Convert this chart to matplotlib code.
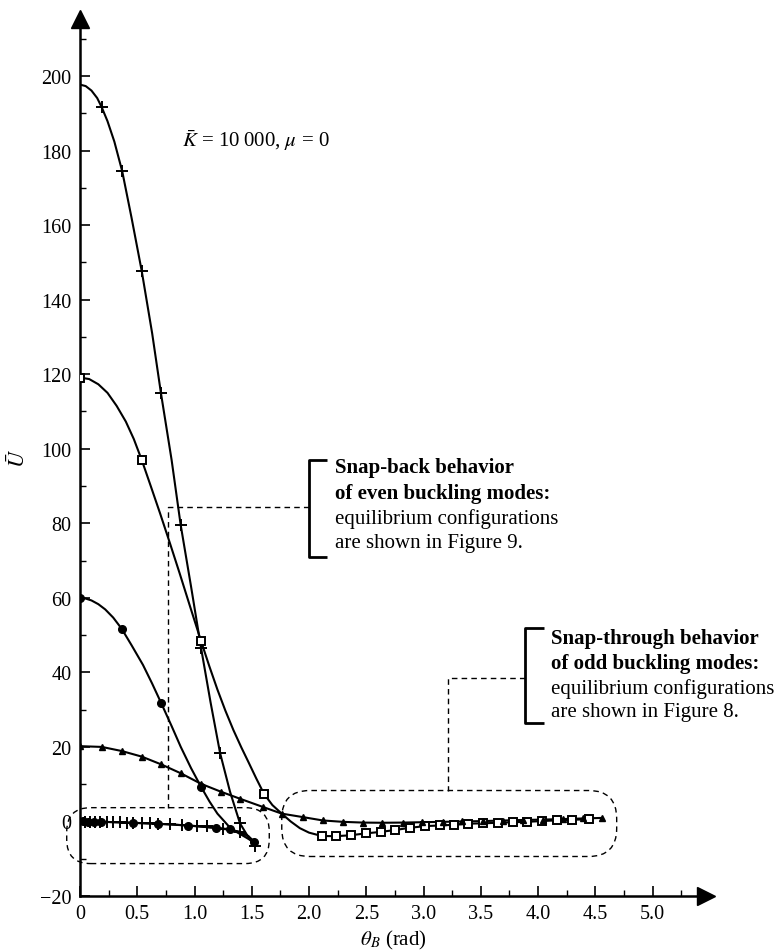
#!/usr/bin/env python3
"""
Potential energy U vs end rotation theta_B (K = 10000, mu = 0).
Snap-back / snap-through branches of the buckling modes.
"""

import matplotlib
matplotlib.use('Agg')
import matplotlib.pyplot as plt
from matplotlib.patches import FancyBboxPatch
from matplotlib.ticker import MultipleLocator

# --- curve: "+" markers (snap-back, goes down then returns near 0)
plus_line_x = [0.0, 0.05, 0.10, 0.15, 0.19, 0.24, 0.30, 0.369, 0.45, 0.539, 0.63, 0.707,
               0.80, 0.879, 0.97, 1.057, 1.14, 1.223, 1.31, 1.397, 1.47, 1.528,
               1.50, 1.45, 1.397, 1.30, 1.20, 1.00, 0.80, 0.60, 0.40, 0.20, 0.0]
plus_line_y = [197.7, 197.3, 196.1, 194.1, 191.6, 187.9, 182.4, 174.4, 162.0, 147.7, 131.0,
               114.9, 97.0, 79.6, 63.0, 46.6, 32.0, 18.4, 8.0, -0.5, -4.2, -6.6,
               -4.8, -3.5, -2.8, -2.2, -1.8, -1.2, -0.8, -0.55, -0.3, -0.1, 0.0]
plus_mark_x = [0.19, 0.369, 0.539, 0.707, 0.879, 1.057, 1.223, 1.397, 1.528,
               0.0, 0.044, 0.087, 0.131, 0.175, 0.233, 0.288, 0.349, 0.408, 0.463, 0.539,
               0.611, 0.681, 0.786, 0.888, 1.019, 1.107, 1.249, 1.397]
plus_mark_y = [191.6, 174.4, 147.7, 114.9, 79.6, 46.6, 18.4, -0.5, -6.6,
               0.0, -0.02, -0.05, -0.08, -0.1, -0.15, -0.2, -0.25, -0.3, -0.35, -0.42,
               -0.5, -0.6, -0.8, -0.95, -1.15, -1.35, -1.9, -2.8]

# --- "o" markers (snap-back)
dot_line_x = [0.0, 0.05, 0.10, 0.16, 0.22, 0.29, 0.364, 0.45, 0.55, 0.63, 0.71, 0.80,
              0.88, 0.97, 1.057, 1.13, 1.20, 1.32, 1.45, 1.52,
              1.47, 1.40, 1.31, 1.185, 0.94, 0.68, 0.46, 0.20, 0.0]
dot_line_y = [60.0, 59.8, 59.3, 58.3, 56.9, 54.7, 51.7, 47.3, 42.0, 37.0, 31.7, 25.6,
              20.0, 14.3, 9.3, 5.4, 2.1, -2.0, -4.3, -5.6,
              -3.9, -2.9, -2.1, -1.7, -1.1, -0.6, -0.35, -0.1, 0.0]
dot_mark_x = [0.0, 0.364, 0.71, 1.057, 1.52,
              0.03, 0.07, 0.12, 0.18, 0.46, 0.68, 0.94, 1.185, 1.31]
dot_mark_y = [60.0, 51.7, 31.7, 9.3, -5.6,
              0.0, -0.02, -0.05, -0.08, -0.35, -0.6, -1.1, -1.7, -2.1]

# --- open squares (snap-through)
sq_line_x = [0.0, 0.08, 0.16, 0.24, 0.32, 0.40, 0.47, 0.539, 0.62, 0.70, 0.786, 0.87,
             0.96, 1.057, 1.13, 1.20, 1.27, 1.34, 1.41, 1.47, 1.54, 1.607, 1.68, 1.762,
             1.84, 1.92, 2.0, 2.111, 2.236, 2.364, 2.495, 2.626, 2.751, 2.882, 3.013,
             3.144, 3.266, 3.389, 3.52, 3.651, 3.779, 3.901, 4.032, 4.163, 4.294, 4.448]
sq_line_y = [119.1, 118.7, 117.3, 115.0, 111.5, 107.3, 102.6, 97.0, 89.8, 82.6, 74.6, 66.6,
             57.8, 48.4, 41.6, 35.4, 29.7, 24.5, 19.8, 16.0, 11.5, 7.4, 4.4, 2.1,
             0.0, -1.8, -3.0, -3.9, -3.95, -3.7, -3.2, -2.8, -2.3, -1.7, -1.25,
             -1.07, -0.9, -0.6, -0.5, -0.35, -0.2, -0.1, 0.1, 0.3, 0.45, 0.6]
sq_mark_x = [0.0, 0.539, 1.057, 1.607, 2.111, 2.236, 2.364, 2.495, 2.626, 2.751, 2.882,
             3.013, 3.144, 3.266, 3.389, 3.52, 3.651, 3.779, 3.901, 4.032, 4.163, 4.294, 4.448]
sq_mark_y = [119.1, 97.0, 48.4, 7.4, -3.9, -3.95, -3.7, -3.2, -2.8, -2.3, -1.7,
             -1.25, -1.07, -0.9, -0.6, -0.5, -0.35, -0.2, -0.1, 0.1, 0.3, 0.45, 0.6]

# --- small filled triangles (snap-through)
tri_x = [0.0, 0.19, 0.364, 0.539, 0.71, 0.882, 1.057, 1.229, 1.397, 1.601, 1.762, 1.95,
         2.12, 2.294, 2.47, 2.64, 2.82, 2.99, 3.17, 3.34, 3.52, 3.69, 3.87, 4.04,
         4.22, 4.39, 4.56]
tri_y = [20.2, 20.0, 18.9, 17.4, 15.3, 12.9, 10.1, 8.0, 6.1, 3.85, 2.1, 1.15,
         0.27, -0.1, -0.3, -0.35, -0.3, -0.2, -0.1, 0.0, 0.1, 0.25, 0.4, 0.5,
         0.65, 0.8, 0.95]

x_ticks = [0, 0.5, 1.0, 1.5, 2.0, 2.5, 3.0, 3.5, 4.0, 4.5, 5.0]
x_tick_labels = ['0', '0.5', '1.0', '1.5', '2.0', '2.5', '3.0', '3.5', '4.0', '4.5', '5.0']
y_ticks = [-20, 0, 20, 40, 60, 80, 100, 120, 140, 160, 180, 200]

snap_back_text = ['Snap-back behavior', 'of even buckling modes:',
                  'equilibrium configurations', 'are shown in Figure 9.']
snap_through_text = ['Snap-through behavior', 'of odd buckling modes:',
                     'equilibrium configurations', 'are shown in Figure 8.']

plt.rcParams['font.family'] = ['Liberation Serif', 'DejaVu Serif']
plt.rcParams['mathtext.fontset'] = 'stix'

PX_X = 114.5   # pixels per x unit
PX_Y = 3.727   # pixels per y unit


def stadium(ax, x0, x1, y0, y1, r_px):
    box = FancyBboxPatch((x0, y0), x1 - x0, y1 - y0,
                         boxstyle=f'round,pad=0,rounding_size={r_px / PX_X}',
                         mutation_aspect=PX_X / PX_Y,
                         fill=False, ec='black', lw=1.0, ls=(0, (4, 3)),
                         clip_on=False, zorder=1)
    ax.add_patch(box)


def bracket(ax, x, x_arm, y_top, y_bot):
    ax.plot([x_arm, x, x, x_arm], [y_top, y_top, y_bot, y_bot],
            color='black', lw=2.0, clip_on=False, solid_capstyle='butt')


def main():
    fig = plt.figure(figsize=(7.83, 9.53), dpi=100)
    ax = fig.add_axes([80 / 783, 56 / 953, 626 / 783, 877 / 953])
    ax.set_xlim(0, 5.467)
    ax.set_ylim(-20, 215.3)

    lw = 1.5
    ax.plot(plus_line_x, plus_line_y, color='black', lw=lw, zorder=3)
    ax.plot(dot_line_x, dot_line_y, color='black', lw=lw, zorder=3)
    ax.plot(sq_line_x, sq_line_y, color='black', lw=lw, zorder=3)
    ax.plot(tri_x, tri_y, color='black', lw=lw, zorder=3)

    ax.plot(plus_mark_x, plus_mark_y, ls='none', marker='+', ms=8, mew=1.4,
            color='black', zorder=4)
    ax.plot(dot_mark_x, dot_mark_y, ls='none', marker='o', ms=5.5,
            color='black', zorder=4)
    ax.plot(sq_mark_x, sq_mark_y, ls='none', marker='s', ms=6, mew=1.4,
            mfc='white', mec='black', zorder=4)
    ax.plot(tri_x, tri_y, ls='none', marker='^', ms=4.5, color='black', zorder=4)

    # axes styling: only left/bottom spines, with arrow heads
    for side in ['top', 'right']:
        ax.spines[side].set_visible(False)
    for side in ['left', 'bottom']:
        ax.spines[side].set_linewidth(1.8)
    ax.plot(1, 0, marker='>', ms=13, color='black', transform=ax.transAxes,
            clip_on=False, zorder=5)
    ax.plot(0, 1, marker='^', ms=13, color='black', transform=ax.transAxes,
            clip_on=False, zorder=5)

    ax.set_xticks(x_ticks)
    ax.set_xticklabels(x_tick_labels)
    ax.set_yticks(y_ticks)
    ax.xaxis.set_minor_locator(MultipleLocator(0.25))
    ax.yaxis.set_minor_locator(MultipleLocator(10))
    ax.tick_params(which='major', direction='in', length=7, width=1.2,
                   labelsize=14.5, pad=6)
    ax.tick_params(which='minor', direction='in', length=4, width=1.0)
    ax.tick_params(axis='y', pad=6)

    fig.text(19 / 783, 1 - 458 / 953, r'$\bar{U}$', fontsize=16, rotation=90,
             ha='center', va='center')
    fig.text(393 / 783, 1 - 940 / 953, r'$\theta_B$ (rad)', fontsize=15,
             ha='center', va='center')

    ax.text(0.89, 183, '$\\bar{K}$ = 10\u2009000, $\\mu$ = 0', fontsize=15,
            ha='left', va='center')

    # snap-back annotation
    dash = (0, (4, 3))
    stadium(ax, -0.116, 1.653, -11.3, 3.7, 24)
    ax.plot([2.0, 0.766, 0.766], [84.5, 84.5, 3.7], color='black', lw=1.0,
            ls=dash, clip_on=False, zorder=1)
    bracket(ax, 2.0, 2.157, 96.9, 71.0)
    for i, (line, yv) in enumerate(zip(snap_back_text, [95.0, 88.0, 81.3, 74.9])):
        ax.text(2.227, yv, line, fontsize=15, va='center', ha='left',
                fontweight='bold' if i < 2 else 'normal')

    # snap-through annotation
    stadium(ax, 1.762, 4.687, -9.4, 8.3, 28)
    ax.plot([3.886, 3.217, 3.217], [38.6, 38.6, 8.3], color='black', lw=1.0,
            ls=dash, clip_on=False, zorder=1)
    bracket(ax, 3.886, 4.055, 51.8, 26.5)
    for i, (line, yv) in enumerate(zip(snap_through_text, [49.3, 42.6, 35.9, 29.6])):
        ax.text(4.11, yv, line, fontsize=15, va='center', ha='left',
                fontweight='bold' if i < 2 else 'normal', clip_on=False)

    fig.savefig('out.png', dpi=100)


if __name__ == '__main__':
    main()
